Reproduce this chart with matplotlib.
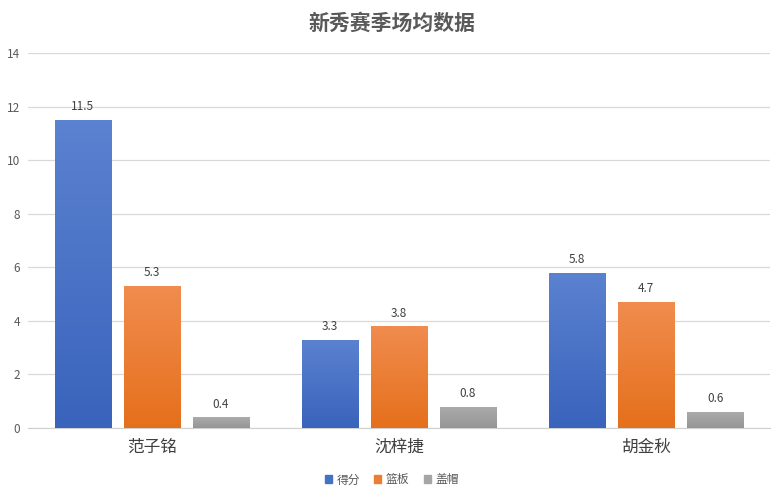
import numpy as np
import matplotlib
matplotlib.use("Agg")
import matplotlib.pyplot as plt
from matplotlib.colors import LinearSegmentedColormap

plt.rcParams['font.family'] = ['Noto Sans CJK SC', 'DejaVu Sans']

# 数据
players = ["范子铭", "沈梓捷", "胡金秋"]
series_names = ["得分", "篮板", "盖帽"]
points = [11.5, 3.3, 5.8]
rebounds = [5.3, 3.8, 4.7]
blocks = [0.4, 0.8, 0.6]

values = [points, rebounds, blocks]
base_colors = ["#4472C4", "#ED7D31", "#A5A5A5"]
# 渐变: 顶部浅, 底部深
grad = [("#5B82D0", "#3A63BC"), ("#F08C4E", "#E5701C"), ("#ABABAB", "#969696")]

fig = plt.figure(figsize=(7.84, 4.97), dpi=100)
ax = fig.add_axes([0.036, 0.139, 0.946, 0.754])

x = np.arange(len(players))
w = 0.227
step = 0.279

for i, (vals, col, (c_top, c_bot)) in enumerate(zip(values, base_colors, grad)):
    pos = x + (i - 1) * step
    bars = ax.bar(pos, vals, w, color=col, label=series_names[i], zorder=2)
    cmap = LinearSegmentedColormap.from_list("g%d" % i, [c_bot, c_top])
    for b, v in zip(bars, vals):
        x0 = b.get_x()
        img = ax.imshow(np.linspace(0, 1, 100).reshape(-1, 1), cmap=cmap,
                        extent=[x0, x0 + b.get_width(), 0, v], origin="lower",
                        aspect="auto", zorder=3)
        img.set_clip_path(b)
        ax.text(b.get_x() + b.get_width() / 2, v + 0.25, f"{v}",
                ha="center", va="bottom", fontsize=8.5, color="#404040")

ax.set_xlim(-0.5, 2.5)
ax.set_ylim(0, 14)
ax.set_yticks(range(0, 15, 2))
ax.set_xticks(x)
ax.set_xticklabels(players, fontsize=12, color="#404040", fontweight="medium")
ax.tick_params(axis="x", length=0, pad=8)
ax.tick_params(axis="y", length=0, labelsize=8.5, labelcolor="#595959", pad=6)
ax.yaxis.grid(True, color="#D9D9D9", linewidth=0.9, zorder=0)
ax.set_axisbelow(True)
for s in ["top", "right", "left"]:
    ax.spines[s].set_visible(False)
ax.spines["bottom"].set_color("#D0D0D0")

fig.suptitle("新秀赛季场均数据", x=0.5, y=0.975, fontsize=15, color="#595959",
             fontweight="bold")

handles = [plt.Rectangle((0, 0), 1, 1, color=c) for c in base_colors]
fig.legend(handles, series_names, loc="lower center", ncol=3, frameon=False,
           bbox_to_anchor=(0.5, 0.0), fontsize=8.5, handlelength=0.6,
           handleheight=0.6, handletextpad=0.4, columnspacing=1.2,
           labelcolor="#595959")

fig.savefig("out.png", dpi=100)
